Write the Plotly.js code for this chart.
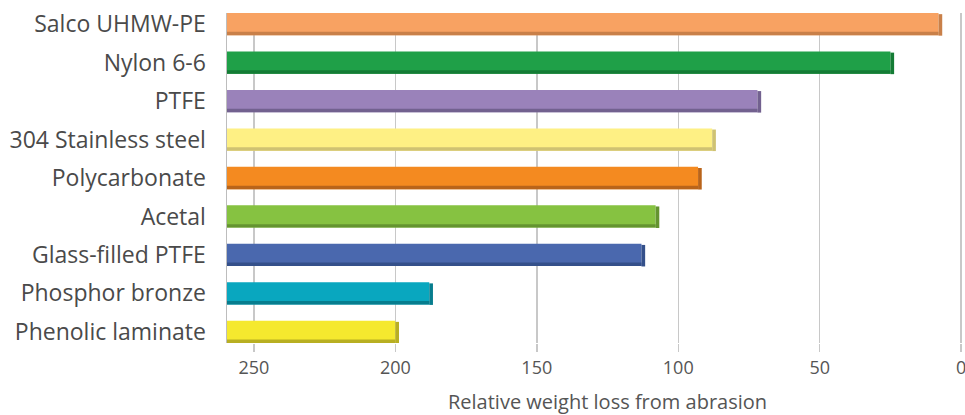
<!DOCTYPE html>
<html><head><meta charset="utf-8">
<script src="https://cdn.plot.ly/plotly-3.0.1.min.js"></script>
<style>html,body{margin:0;padding:0;background:#fff}#chart{width:965px;height:415px}</style>
</head><body><div id="chart"></div>
<script>
const materials = ["Salco UHMW-PE","Nylon 6-6","PTFE","304 Stainless steel","Polycarbonate","Acetal","Glass-filled PTFE","Phosphor bronze","Phenolic laminate"];
const weightLoss = [8, 25, 72, 88, 93, 108, 113, 188, 200];
const faceColors = ["#F8A262","#1FA048","#9A82BA","#FEF084","#F48A20","#86C241","#4A68AE","#09A7BF","#F5E92E"];
const edgeColors = ["#C98049","#147C35","#72618F","#CFC272","#B9641A","#649430","#34508A","#077D8E","#B8AF22"];
const tickVals = [250, 200, 150, 100, 50, 0];
const axisStart = 259.5;
const axisEnd = -1;

const fontFam = "'Open Sans', 'Noto Sans', sans-serif";
const span = weightLoss.map(v => v - axisStart);
const base = weightLoss.map(() => axisStart);

const face = {
  type: 'bar', orientation: 'h', y: materials, x: span, base: base,
  width: 0.58, offset: -0.29,
  marker: {color: faceColors, line: {width: 0}},
  hoverinfo: 'skip'
};
const bottomEdge = {
  type: 'bar', orientation: 'h', y: materials, x: span, base: base,
  width: 0.09, offset: 0.2,
  marker: {color: edgeColors, line: {width: 0}},
  hoverinfo: 'skip'
};
const endCap = {
  type: 'bar', orientation: 'h', y: materials, x: weightLoss.map(() => -1.3), base: weightLoss,
  width: 0.56, offset: -0.26,
  marker: {color: edgeColors, line: {width: 0}},
  hoverinfo: 'skip'
};

const layout = {
  width: 965, height: 415,
  margin: {l: 227, r: 1, t: 13, b: 72},
  barmode: 'overlay',
  showlegend: false,
  paper_bgcolor: '#fff', plot_bgcolor: '#fff',
  font: {family: fontFam, color: '#555'},
  xaxis: {
    range: [axisStart, axisEnd],
    tickvals: tickVals,
    ticktext: tickVals.map(String),
    showgrid: true, gridcolor: '#C8C8C8', gridwidth: 1.5,
    zeroline: true, zerolinecolor: '#C8C8C8', zerolinewidth: 1.5,
    ticks: 'outside', ticklen: 8, tickcolor: '#C8C8C8', tickwidth: 1.5,
    ticklabeloverflow: 'allow',
    showline: false,
    tickfont: {size: 18, color: '#555'},
    fixedrange: true
  },
  yaxis: {
    type: 'category',
    range: [8.29, -0.29],
    showgrid: false, zeroline: false,
    showline: true, linecolor: '#BDBDBD', linewidth: 1.5,
    ticks: '', ticklabelstandoff: 15,
    tickfont: {size: 23, color: '#4a4a4a'},
    fixedrange: true
  },
  annotations: [{
    text: 'Relative weight loss from abrasion',
    xref: 'paper', yref: 'paper', x: 0.516, y: 0, yshift: -58,
    xanchor: 'center', yanchor: 'middle', showarrow: false,
    font: {size: 20, color: '#555', family: fontFam}
  }]
};

Plotly.newPlot('chart', [face, bottomEdge, endCap], layout, {displayModeBar: false, staticPlot: true});
</script>
</body></html>
